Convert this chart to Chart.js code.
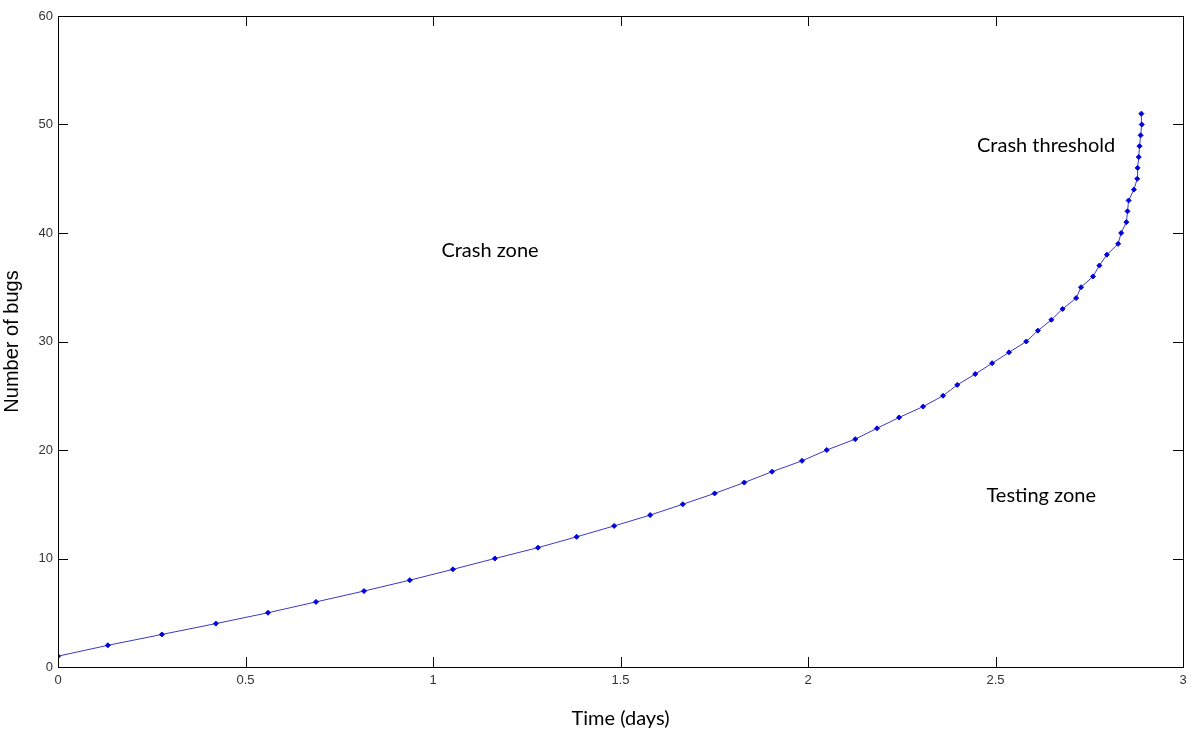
<!DOCTYPE html>
<html>
<head>
<meta charset="utf-8">
<script src="https://cdn.jsdelivr.net/npm/chart.js@4.4.1/dist/chart.umd.min.js"></script>
<style>
  html, body { margin: 0; padding: 0; background: #fff; }
  #wrap { width: 1199px; height: 736px; }
</style>
</head>
<body>
<div id="wrap"><canvas id="bugChart"></canvas></div>
<script>
// données
const timeDays = [0, 0.133, 0.277, 0.421, 0.56, 0.688, 0.816, 0.938, 1.053, 1.165,
  1.28, 1.383, 1.483, 1.579, 1.666, 1.751, 1.83, 1.904, 1.984, 2.05,
  2.126, 2.184, 2.243, 2.307, 2.36, 2.398, 2.446, 2.491, 2.536, 2.582,
  2.613, 2.649, 2.679, 2.715, 2.728, 2.76, 2.777, 2.797, 2.827, 2.835,
  2.849, 2.852, 2.855, 2.869, 2.878, 2.879, 2.882, 2.884, 2.887, 2.89, 2.889];
const bugCount = [1, 2, 3, 4, 5, 6, 7, 8, 9, 10,
  11, 12, 13, 14, 15, 16, 17, 18, 19, 20,
  21, 22, 23, 24, 25, 26, 27, 28, 29, 30,
  31, 32, 33, 34, 35, 36, 37, 38, 39, 40,
  41, 42, 43, 44, 45, 46, 47, 48, 49, 50, 51];

const xTicks = [0, 0.5, 1, 1.5, 2, 2.5, 3];
const yTicks = [0, 10, 20, 30, 40, 50, 60];

// annotations (texte + position en données)
const zoneLabels = ['Crash zone', 'Testing zone', 'Crash threshold'];
const zoneX = [1.152, 2.622, 2.635];
const zoneY = [38.4, 15.8, 48.1];

const points = timeDays.map(function (t, i) { return { x: t, y: bugCount[i] }; });

// cadre + graduations vers l'intérieur (style Matlab)
const boxPlugin = {
  id: 'boxPlugin',
  afterDatasetsDraw: function (chart) {
    const ctx = chart.ctx;
    const a = chart.chartArea;
    const xs = chart.scales.x, ys = chart.scales.y;
    const len = 10;
    ctx.save();
    ctx.strokeStyle = '#000';
    ctx.lineWidth = 1;
    ctx.beginPath();
    xTicks.forEach(function (v) {
      const px = Math.round(xs.getPixelForValue(v)) + 0.5;
      ctx.moveTo(px, a.bottom); ctx.lineTo(px, a.bottom - len);
      ctx.moveTo(px, a.top); ctx.lineTo(px, a.top + len);
    });
    yTicks.forEach(function (v) {
      const py = Math.round(ys.getPixelForValue(v)) + 0.5;
      ctx.moveTo(a.left, py); ctx.lineTo(a.left + len, py);
      ctx.moveTo(a.right, py); ctx.lineTo(a.right - len, py);
    });
    ctx.stroke();
    ctx.strokeRect(Math.round(a.left) + 0.5, Math.round(a.top) + 0.5,
      Math.round(a.right - a.left), Math.round(a.bottom - a.top));

    ctx.fillStyle = '#000';
    ctx.font = '20px Lato, "Open Sans", sans-serif';
    ctx.textAlign = 'center';
    ctx.textBaseline = 'middle';
    zoneLabels.forEach(function (txt, i) {
      ctx.fillText(txt, xs.getPixelForValue(zoneX[i]), ys.getPixelForValue(zoneY[i]));
    });
    ctx.restore();
  }
};

const ctx = document.getElementById('bugChart').getContext('2d');
new Chart(ctx, {
  type: 'line',
  data: {
    datasets: [{
      label: 'Bugs',
      data: points,
      borderColor: '#3a3ac8',
      borderWidth: 1,
      backgroundColor: '#0000dd',
      pointStyle: 'rectRot',
      pointRadius: 2.5,
      pointBorderWidth: 1,
      pointBorderColor: '#0000dd',
      tension: 0
    }]
  },
  options: {
    responsive: true,
    maintainAspectRatio: false,
    animation: false,
    layout: { padding: { top: 16, right: 16, left: 0, bottom: 0 } },
    plugins: {
      legend: { display: false },
      tooltip: { enabled: false }
    },
    scales: {
      x: {
        type: 'linear',
        min: 0,
        max: 3,
        afterBuildTicks: function (scale) {
          scale.ticks = xTicks.map(function (v) { return { value: v }; });
        },
        afterFit: function (scale) { scale.height = 69; },
        grid: { display: false, drawTicks: false },
        border: { display: false },
        ticks: {
          padding: 6,
          color: '#333',
          font: { family: '"Liberation Sans", Arial, sans-serif', size: 13 },
          maxRotation: 0,
          callback: function (value) { return String(value); }
        },
        title: {
          display: true,
          text: 'Time (days)',
          color: '#000',
          font: { family: 'Lato, "Open Sans", sans-serif', size: 20 },
          padding: { top: 10, bottom: 5 }
        }
      },
      y: {
        min: 0,
        max: 60,
        afterBuildTicks: function (scale) {
          scale.ticks = yTicks.map(function (v) { return { value: v }; });
        },
        afterFit: function (scale) { scale.width = 58; },
        grid: { display: false, drawTicks: false },
        border: { display: false },
        ticks: {
          padding: 5,
          color: '#333',
          font: { family: '"Liberation Sans", Arial, sans-serif', size: 13 },
          callback: function (value) { return String(value); }
        },
        title: {
          display: true,
          text: 'Number of bugs',
          color: '#000',
          font: { family: '"Liberation Sans", Arial, sans-serif', size: 20 },
          padding: { top: 0, bottom: 4 }
        }
      }
    }
  },
  plugins: [boxPlugin]
});
</script>
</body>
</html>
